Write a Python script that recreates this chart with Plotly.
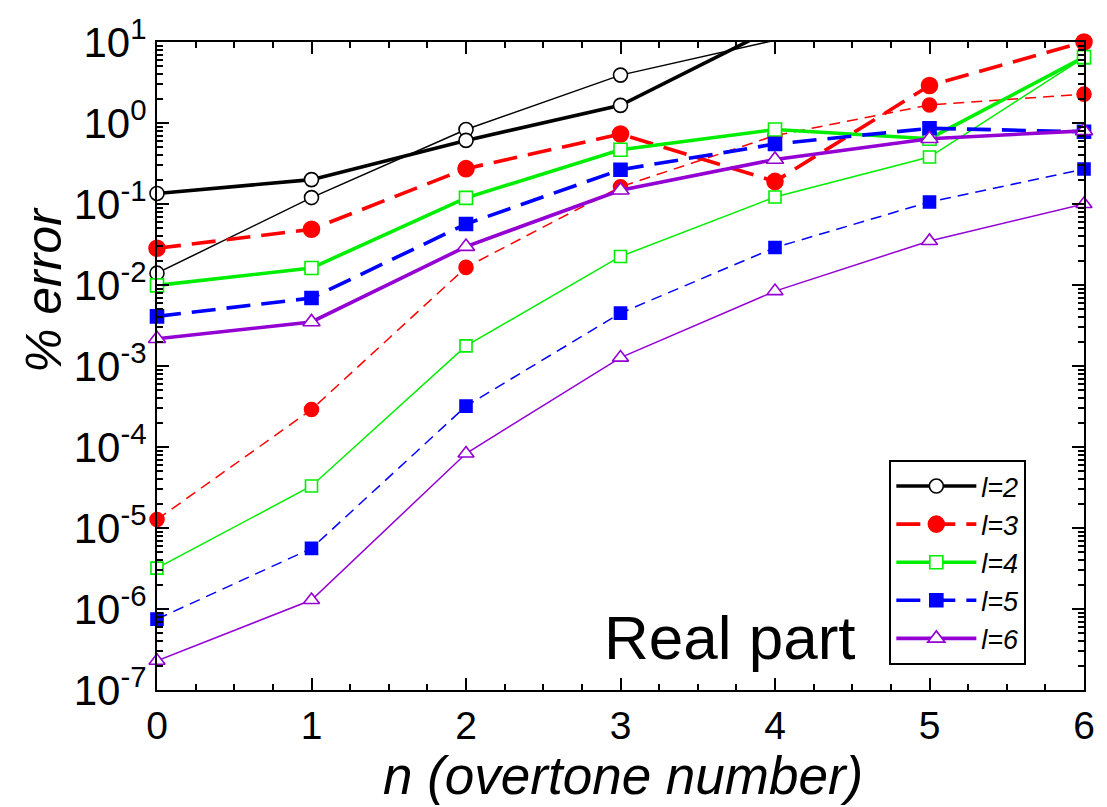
import plotly.graph_objects as go

# ---- data ----
n = [0, 1, 2, 3, 4, 5, 6]

# thick curves (shown in legend)
l2_thick = [0.135, 0.20, 0.61, 1.65, 15.0, 60.0, 200.0]
l3_thick = [0.0284, 0.0487, 0.273, 0.73, 0.19, 2.9, 10.0]
l4_thick = [0.0099, 0.0162, 0.119, 0.467, 0.83, 0.64, 6.5]
l5_thick = [0.0041, 0.0069, 0.0566, 0.265, 0.55, 0.86, 0.78]
l6_thick = [0.00217, 0.0035, 0.0298, 0.148, 0.355, 0.64, 0.80]

# thin curves
l2_thin = [0.014, 0.12, 0.83, 3.9, 10.5, 40.0, 150.0]
l3_thin = [1.27e-5, 2.9e-4, 0.0165, 0.163, 0.70, 1.67, 2.27]
l4_thin = [3.2e-6, 3.3e-5, 1.77e-3, 0.0225, 0.122, 0.38, 6.4]
l5_thin = [7.5e-7, 5.6e-6, 3.2e-4, 4.5e-3, 0.029, 0.106, 0.27]
l6_thin = [2.3e-7, 1.29e-6, 8.3e-5, 1.27e-3, 8.4e-3, 0.035, 0.10]

labels = ["l=2", "l=3", "l=4", "l=5", "l=6"]
tick_exps = list(range(-7, 2))
x_ticks = [0, 1, 2, 3, 4, 5, 6]

FONT = "Liberation Sans, Arial, Helvetica, sans-serif"
YMAX = 10.0

styles = [
    dict(color="#000000", symbol="circle", fill="#ffffff", size=(14, 14), dash=(None, None)),
    dict(color="#ff0000", symbol="circle", fill="#ff0000", size=(16, 14), dash=("24px,11px", "11px,7px")),
    dict(color="#00ee00", symbol="square", fill="#ffffff", size=(13, 12), dash=(None, None)),
    dict(color="#0000ff", symbol="square", fill="#0000ff", size=(13, 12), dash=("24px,11px", "11px,7px")),
    dict(color="#9400d3", symbol="triangle-up", fill="#ffffff", size=(15, 14), dash=(None, None)),
]

thick_sets = [l2_thick, l3_thick, l4_thick, l5_thick, l6_thick]
thin_sets = [l2_thin, l3_thin, l4_thin, l5_thin, l6_thin]

fig = go.Figure()

def line_style(st, thick):
    idx = 0 if thick else 1
    line = dict(color=st["color"], width=3.6 if thick else 1.5)
    if st["dash"][idx]:
        line["dash"] = st["dash"][idx]
    return line

def add(vals, st, thick, name):
    idx = 0 if thick else 1
    visible = [v <= YMAX * 1.001 for v in vals]
    size = [st["size"][idx] if ok else 0 for ok in visible]
    opac = [1 if ok else 0 for ok in visible]
    fig.add_trace(go.Scatter(
        x=n, y=vals, mode="lines+markers", name=name,
        showlegend=False, legendgroup=name, cliponaxis=False,
        line=line_style(st, thick),
        marker=dict(symbol=st["symbol"], size=size, opacity=opac, color=st["fill"],
                    line=dict(color=st["color"], width=1.6)),
    ))

for vals, st, lab in zip(thin_sets, styles, labels):
    add(vals, st, False, lab)
for vals, st, lab in zip(thick_sets, styles, labels):
    add(vals, st, True, lab)

# legend entries (no data of their own)
for st, lab in zip(styles, labels):
    fig.add_trace(go.Scatter(
        x=[None], y=[None], mode="lines+markers", name=lab, legendgroup=lab,
        showlegend=True, line=line_style(st, True),
        marker=dict(symbol=st["symbol"], size=st["size"][0], color=st["fill"],
                    line=dict(color=st["color"], width=1.6)),
    ))

minor_vals = [k * 10.0 ** e for e in range(-7, 1) for k in range(2, 10)]

fig.update_layout(
    width=1107, height=807,
    margin=dict(l=157, r=14, t=37, b=117),
    paper_bgcolor="white", plot_bgcolor="white",
    font=dict(family=FONT, color="black"),
    xaxis=dict(
        range=[0, 6], tickmode="array", tickvals=x_ticks,
        ticks="inside", ticklen=12, tickwidth=2, tickcolor="black",
        showline=True, linecolor="black", linewidth=2, mirror="allticks",
        showgrid=False, zeroline=False,
        tickfont=dict(size=39, family=FONT, color="black"),
        minor=dict(dtick=0.25, ticks="inside", ticklen=6, tickwidth=1.5, tickcolor="black", showgrid=False),
    ),
    yaxis=dict(
        type="log", range=[-7, 1], tickmode="array",
        tickvals=[10.0 ** e for e in tick_exps],
        ticktext=["10<sup>%d</sup>" % e for e in tick_exps],
        ticks="inside", ticklen=12, tickwidth=2, tickcolor="black",
        showline=True, linecolor="black", linewidth=2, mirror="allticks",
        showgrid=False, zeroline=False,
        tickfont=dict(size=42, family=FONT, color="black"),
        minor=dict(tickvals=minor_vals, ticks="inside", ticklen=6, tickwidth=1.5, tickcolor="black", showgrid=False),
    ),
    legend=dict(
        x=0.79, y=0.355, xanchor="left", yanchor="top",
        bgcolor="white", bordercolor="black", borderwidth=2,
        font=dict(size=27, family=FONT, color="black", style="italic"),
        tracegroupgap=0, itemwidth=80,
    ),
    annotations=[
        dict(text="Real part", xref="paper", yref="paper", x=0.618, y=0.081,
             xanchor="center", yanchor="middle", showarrow=False,
             font=dict(size=62, family=FONT, color="black")),
        dict(text="% error", xref="paper", yref="paper", x=-0.122, y=0.617,
             xanchor="center", yanchor="middle", showarrow=False, textangle=-90,
             font=dict(size=50, family=FONT, color="black", style="italic")),
        dict(text="n (overtone number)", xref="paper", yref="paper", x=0.503, y=-0.1317,
             xanchor="center", yanchor="middle", showarrow=False,
             font=dict(size=53, family=FONT, color="black", style="italic")),
    ],
)

fig.write_html("out.html")
